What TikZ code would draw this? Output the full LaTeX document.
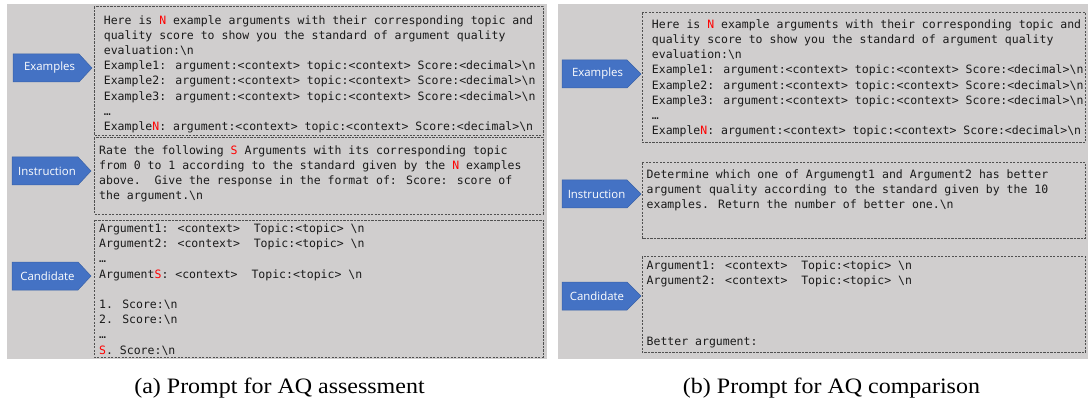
\documentclass[tikz,border=0pt]{standalone}
\usepackage{fontspec}
\setmainfont{Liberation Serif}
\newfontfamily\mono{DejaVu Sans Mono}
\newfontfamily\lab{Open Sans}
\definecolor{bg}{HTML}{D0CECE}
\definecolor{lb}{HTML}{4472C4}
\definecolor{lbd}{HTML}{3A62A8}
\definecolor{tx}{HTML}{1A1A1A}
\definecolor{bd}{HTML}{505050}
\newcommand{\rd}[1]{\textcolor{red}{#1}}
\newcommand{\nl}{\textbackslash n}
\newcommand{\fl}{\rule{0pt}{10pt}}
\begin{document}
\begin{tikzpicture}[x=1pt,y=-1pt,
 panel/.style={fill=bg},
 dbox/.style={draw=bd, line width=0.7pt, dash pattern=on 2.2pt off 1.3pt},
 tag/.style={fill=lb, draw=lbd, line width=0.5pt},
 tagtext/.style={text=white, font=\lab\fontsize{11.4}{13}\selectfont, inner sep=0},
 body/.style={anchor=north west, inner sep=0, align=left, text=tx, font=\mono\fontsize{11.5}{15.2}\selectfont},
 captext/.style={anchor=base, inner sep=0, font=\fontsize{22}{26}\selectfont}]
\useasboundingbox (0,0) rectangle (1088,401);
\fill[white] (0,0) rectangle (1088,401);
\fill[panel] (7,4) rectangle (547,359);
\fill[panel] (558,4) rectangle (1088,359);
% panel (a) boxes
\draw[dbox] (94,6.5) rectangle (543,135.5);
\draw[dbox] (94,137.5) rectangle (543,214);
\draw[dbox] (94,220) rectangle (543,357);
% panel (b) boxes
\draw[dbox] (642,12.7) rectangle (1085.5,142.3);
\draw[dbox] (642,162.7) rectangle (1085.5,238.3);
\draw[dbox] (642,256.7) rectangle (1085.5,352.3);
% tags (a)
\draw[tag] (13,54) -- (79,54) -- (92,68) -- (79,82) -- (13,82) -- cycle;
\node[tagtext] (tEa) at (49.5,68) {Examples};
\draw[tag] (12,157) -- (78,157) -- (91,171) -- (78,185) -- (12,185) -- cycle;
\node[tagtext] (tIa) at (47,171) {Instruction};
\draw[tag] (12,262) -- (78,262) -- (91,276) -- (78,290) -- (12,290) -- cycle;
\node[tagtext] (tCa) at (47.5,276) {Candidate};
% tags (b)
\draw[tag] (562,60) -- (627,60) -- (641,74) -- (627,88) -- (562,88) -- cycle;
\node[tagtext] (tEb) at (597.5,74) {Examples};
\draw[tag] (562,180) -- (627,180) -- (641,194) -- (627,208) -- (562,208) -- cycle;
\node[tagtext] (tIb) at (596.5,194) {Instruction};
\draw[tag] (562,282) -- (627,282) -- (641,296) -- (627,310) -- (562,310) -- cycle;
\node[tagtext] (tCb) at (597,296) {Candidate};
% texts (a)
\node[body] (xEa) at (103.7,13.9) {\fl Here is \rd{N} example arguments with their corresponding topic and\\
quality score to show you the standard of argument quality\\
evaluation:\nl\\
Example1: argument:<context> topic:<context> Score:<decimal>\nl\\
Example2: argument:<context> topic:<context> Score:<decimal>\nl\\
Example3: argument:<context> topic:<context> Score:<decimal>\nl\\
…\\
Example\rd{N}: argument:<context> topic:<context> Score:<decimal>\nl};
\node[body] (xIa) at (99,143.9) {\fl Rate the following \rd{S} Arguments with its corresponding topic\\
from 0 to 1 according to the standard given by the \rd{N} examples\\
above.~~Give the response in the format of: Score: score of\\
the argument.\nl};
\node[body] (xCa) at (99,222.2) {\fl Argument1: <context>~~Topic:<topic> \nl\\
Argument2: <context>~~Topic:<topic> \nl\\
…\\
Argument\rd{S}: <context>~~Topic:<topic> \nl\\
~\\
1. Score:\nl\\
2. Score:\nl\\
…\\
\rd{S}. Score:\nl};
% texts (b)
\node[body] (xEb) at (651.7,18.2) {\fl Here is \rd{N} example arguments with their corresponding topic and\\
quality score to show you the standard of argument quality\\
evaluation:\nl\\
Example1: argument:<context> topic:<context> Score:<decimal>\nl\\
Example2: argument:<context> topic:<context> Score:<decimal>\nl\\
Example3: argument:<context> topic:<context> Score:<decimal>\nl\\
…\\
Example\rd{N}: argument:<context> topic:<context> Score:<decimal>\nl};
\node[body] (xIb) at (646.5,168.2) {\fl Determine which one of Argumengt1 and Argument2 has better\\
argument quality according to the standard given by the 10\\
examples. Return the number of better one.\nl};
\node[body] (xCb) at (646.5,259.2) {\fl Argument1: <context>~~Topic:<topic> \nl\\
Argument2: <context>~~Topic:<topic> \nl\\
~\\
~\\
~\\
Better argument:};
% captions
\node[captext] (capa) at (279.5,393) {\scalebox{1.09}[1]{(a) Prompt for AQ assessment}};
\node[captext] (capb) at (831.5,393) {\scalebox{1.09}[1]{(b) Prompt for AQ comparison}};
\end{tikzpicture}
\end{document}
